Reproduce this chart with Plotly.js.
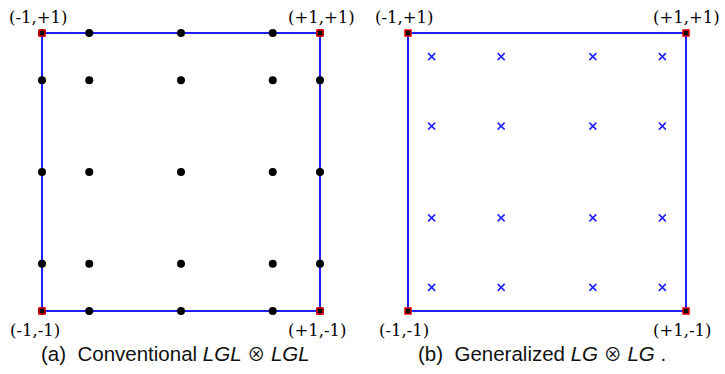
<!DOCTYPE html>
<html>
<head>
<meta charset="utf-8">
<script src="https://cdn.plot.ly/plotly-3.0.1.min.js"></script>
<style>html,body{margin:0;padding:0;background:#fff;}#chart{width:725px;height:374px;}</style>
</head>
<body>
<div id="chart"></div>
<script>
// Square outline (corners, closed)
const boxX = [-1, 1, 1, -1, -1];
const boxY = [-1, -1, 1, 1, -1];
// Corner vertices
const cornerX = [-1, 1, -1, 1];
const cornerY = [1, 1, -1, -1];
const cornerLabels = ["(-1,+1)", "(+1,+1)", "(-1,-1)", "(+1,-1)"];
// LGL nodes (1D) for panel a
const lglNodes = [-1, -0.66, 0, 0.66, 1];
// LG nodes (1D) for panel b
const lgNodes = [-0.83, -0.33, 0.33, 0.83];
// Captions
const otimes = "<span style=\"font-family:'Noto Sans CJK SC','DejaVu Sans';font-size:18px\">⊗</span>";
const captionA = "(a)  Conventional <i>LGL</i> " + otimes + " <i>LGL</i>";
const captionB = "(b)  Generalized <i>LG</i> " + otimes + " <i>LG</i> .";

function tensor(nodes) {
  const xs = [], ys = [];
  nodes.forEach(yv => nodes.forEach(xv => { xs.push(xv); ys.push(yv); }));
  return {xs, ys};
}
const lgl = tensor(lglNodes);
const lg = tensor(lgNodes);

const blue = 'rgb(30,30,255)';
const traces = [
  {x: boxX, y: boxY, xaxis: 'x', yaxis: 'y', mode: 'lines', line: {color: blue, width: 2}, hoverinfo: 'skip'},
  {x: lgl.xs, y: lgl.ys, xaxis: 'x', yaxis: 'y', mode: 'markers', marker: {color: '#000', size: 8}, cliponaxis: false},
  {x: cornerX, y: cornerY, xaxis: 'x', yaxis: 'y', mode: 'markers', marker: {symbol: 'square', color: '#000', size: 6, line: {color: '#e00000', width: 1.5}}, cliponaxis: false},
  {x: boxX, y: boxY, xaxis: 'x2', yaxis: 'y2', mode: 'lines', line: {color: blue, width: 2}, hoverinfo: 'skip'},
  {x: lg.xs, y: lg.ys, xaxis: 'x2', yaxis: 'y2', mode: 'markers', marker: {symbol: 'x-thin', color: blue, size: 7, line: {color: blue, width: 1.5}}, cliponaxis: false},
  {x: cornerX, y: cornerY, xaxis: 'x2', yaxis: 'y2', mode: 'markers', marker: {symbol: 'square', color: '#000', size: 6, line: {color: '#e00000', width: 1.5}}, cliponaxis: false}
];

const W = 725, H = 374;
const pad = 0.05;            // axis padding in data units
const ppu = 139;             // pixels per data unit
const padPx = pad * ppu;
const yDom = [(H - 311 - padPx) / H, (H - 33 + padPx) / H];
const axBase = {range: [-1 - pad, 1 + pad], showgrid: false, zeroline: false, showticklabels: false, ticks: '', showline: false, fixedrange: true};

const annotations = [];
const shifts = [[-4, 16], [1, 16], [-7, -19], [-3, -19]];
const shifts2 = [[-4, 16], [0, 16], [-4, -19], [-4, -19]];
['x', 'x2'].forEach((xa, k) => {
  const ya = k === 0 ? 'y' : 'y2';
  const sh = k === 0 ? shifts : shifts2;
  cornerLabels.forEach((t, i) => {
    annotations.push({
      text: t, x: cornerX[i], y: cornerY[i], xref: xa, yref: ya,
      showarrow: false, xanchor: 'center', yanchor: 'middle',
      xshift: sh[i][0], yshift: sh[i][1],
      font: {family: 'DejaVu Serif', size: 16.5, color: '#000'}
    });
  });
});
annotations.push({text: captionA, xref: 'paper', yref: 'paper', x: 175 / W, y: (H - 353) / H, showarrow: false, xanchor: 'center', yanchor: 'middle', font: {family: 'Liberation Sans', size: 20.5, color: '#111'}});
annotations.push({text: captionB, xref: 'paper', yref: 'paper', x: 542 / W, y: (H - 353) / H, showarrow: false, xanchor: 'center', yanchor: 'middle', font: {family: 'Liberation Sans', size: 20.5, color: '#111'}});

const layout = {
  width: W, height: H,
  margin: {l: 0, r: 0, t: 0, b: 0},
  paper_bgcolor: '#fff', plot_bgcolor: '#fff',
  showlegend: false,
  xaxis: Object.assign({}, axBase, {domain: [(42 - padPx) / W, (320 + padPx) / W], anchor: 'y'}),
  yaxis: Object.assign({}, axBase, {domain: yDom, anchor: 'x'}),
  xaxis2: Object.assign({}, axBase, {domain: [(408 - padPx) / W, (686 + padPx) / W], anchor: 'y2'}),
  yaxis2: Object.assign({}, axBase, {domain: yDom, anchor: 'x2'}),
  annotations: annotations
};
Plotly.newPlot('chart', traces, layout, {displayModeBar: false, staticPlot: true});
</script>
</body>
</html>
